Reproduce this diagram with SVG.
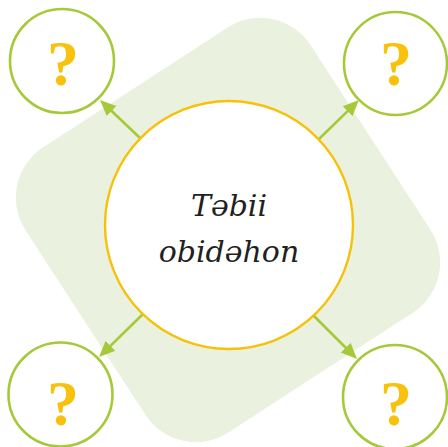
<svg xmlns="http://www.w3.org/2000/svg" width="448" height="447" viewBox="0 0 448 447">
  <defs>
    <style>
      .small { fill: #ffffff; stroke: #a6c93a; stroke-width: 2.6; }
      .q { font-family: "Liberation Serif", "DejaVu Serif", serif; font-weight: bold; font-size: 64px; fill: #f8c20c; text-anchor: middle; }
      .main { fill: #ffffff; stroke: #f7c10a; stroke-width: 2.4; }
      .title { font-family: "DejaVu Serif", "Liberation Serif", serif; font-style: italic; font-size: 30px; fill: #231f20; text-anchor: middle; }
      .conn { stroke: #a6c93a; stroke-width: 2.6; fill: none; marker-end: url(#arrow); }
    </style>
    <marker id="arrow" markerUnits="userSpaceOnUse" markerWidth="18" markerHeight="16" viewBox="0 -8 18 16" refX="4" refY="0" orient="auto">
      <path d="M0,-7 L16,0 L0,7 z" fill="#a6c93a"/>
    </marker>
  </defs>
  <rect id="background" x="-170" y="-170" width="340" height="340" rx="60" ry="60" fill="#eaf2df" transform="translate(228,230) rotate(-33)"/>
  <g id="connectors">
    <line class="conn" x1="140" y1="138" x2="108.7" y2="108.3"/>
    <line class="conn" x1="319" y1="139" x2="350.4" y2="108.4"/>
    <line class="conn" x1="143" y1="314" x2="107.6" y2="348.6"/>
    <line class="conn" x1="314" y1="316" x2="348.5" y2="350.5"/>
  </g>
  <g id="center">
    <circle class="main" cx="229" cy="225" r="124"/>
    <text class="title" x="229" y="216">Təbii</text>
    <text class="title" x="229" y="262">obidəhon</text>
  </g>
  <g id="q-top-left">
    <circle class="small" cx="62" cy="61" r="52"/>
    <text class="q" x="63" y="85">?</text>
  </g>
  <g id="q-top-right">
    <circle class="small" cx="395.5" cy="63.5" r="51.5"/>
    <text class="q" x="396" y="85">?</text>
  </g>
  <g id="q-bottom-left">
    <circle class="small" cx="60.5" cy="394.5" r="52"/>
    <text class="q" x="63" y="425">?</text>
  </g>
  <g id="q-bottom-right">
    <circle class="small" cx="395" cy="397" r="52"/>
    <text class="q" x="396" y="425">?</text>
  </g>
</svg>
